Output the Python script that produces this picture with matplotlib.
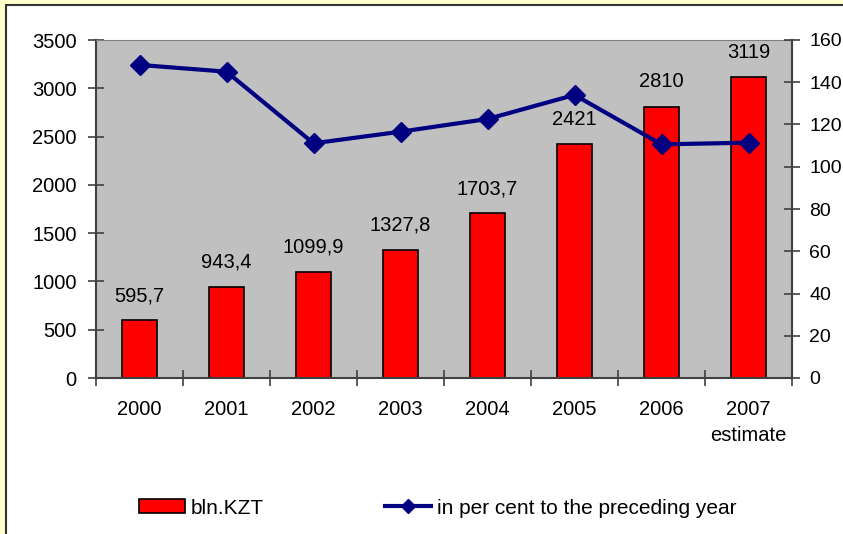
import matplotlib.pyplot as plt
from matplotlib.patches import Rectangle, Patch
from matplotlib.lines import Line2D
from matplotlib.ticker import FixedLocator, MultipleLocator

plt.rcParams["font.family"] = ["Liberation Sans", "DejaVu Sans"]

# data
years = ["2000", "2001", "2002", "2003", "2004", "2005", "2006", "2007\nestimate"]
bln_kzt = [595.7, 943.4, 1099.9, 1327.8, 1703.7, 2421, 2810, 3119]
pct_prev = [148.2, 145.0, 111.1, 116.6, 122.6, 134.0, 110.6, 111.4]

FS = 14.5

fig = plt.figure(figsize=(8.43, 5.34), dpi=100, facecolor="#FFFFCC")
W, H = 843, 534

# white chart area with dark frame (cut at right/bottom in the original)
fig.patches.append(Rectangle((6 / W, -0.1), 1.2, (H - 5) / H + 0.1,
                             transform=fig.transFigure, facecolor="white",
                             edgecolor="#333333", linewidth=1.5, zorder=-5))

ax = fig.add_axes([96 / W, (H - 378) / H, (792 - 96) / W, (378 - 40) / H])
ax.set_facecolor("#C0C0C0")
x = list(range(len(years)))

ax.bar(x, bln_kzt, width=0.41, color="#FF0000", edgecolor="black",
       linewidth=1.2, zorder=2)
for xi, v in zip(x, bln_kzt):
    ax.annotate(f"{v:g}".replace(".", ","), (xi, v), xytext=(0, 11),
                textcoords="offset points", ha="center", va="bottom",
                fontsize=FS, zorder=3)

ax.set_xlim(-0.5, len(years) - 0.5)
ax.set_ylim(0, 3500)
ax.yaxis.set_major_locator(MultipleLocator(500))
ax.set_xticks(x)
ax.set_xticklabels(years, fontsize=FS, linespacing=1.45)
ax.xaxis.set_minor_locator(FixedLocator([i - 0.5 for i in range(len(years) + 1)]))
ax.tick_params(axis="x", which="major", length=0, pad=16)
ax.tick_params(axis="x", which="minor", length=12, direction="inout",
               color="#404040", width=1.2)
ax.tick_params(axis="y", length=12, direction="inout", color="#404040",
               width=1.2, labelsize=FS, pad=8)
for side in ["left", "bottom"]:
    ax.spines[side].set_color("#404040")
    ax.spines[side].set_linewidth(1.5)
for side in ["top", "right"]:
    ax.spines[side].set_color("#808080")

ax2 = ax.twinx()
ax2.plot(x, pct_prev, color="#000080", linewidth=3, marker="D",
         markersize=10, zorder=4)
ax2.set_ylim(0, 160)
ax2.yaxis.set_major_locator(MultipleLocator(20))
ax2.tick_params(axis="y", length=12, direction="inout", color="#404040",
                width=1.2, labelsize=14, pad=6.5)
ax2.spines["right"].set_color("#404040")
ax2.spines["right"].set_linewidth(1.5)
for side in ["left", "top", "bottom"]:
    ax2.spines[side].set_visible(False)

handles = [
    Patch(facecolor="#FF0000", edgecolor="black", linewidth=1.2),
    Line2D([], [], color="#000080", linewidth=3, marker="D", markersize=7),
]
labels = ["bln.KZT", "in per cent to the preceding year"]
fig.legend(handles, labels, loc="center left",
           bbox_to_anchor=(139 / W, (H - 508) / H), ncol=2, frameon=False,
           fontsize=15, borderpad=0, borderaxespad=0, handlelength=2.2,
           handleheight=0.62, handletextpad=0.3, columnspacing=5.8)

fig.savefig("out.png", dpi=100, facecolor=fig.get_facecolor())
